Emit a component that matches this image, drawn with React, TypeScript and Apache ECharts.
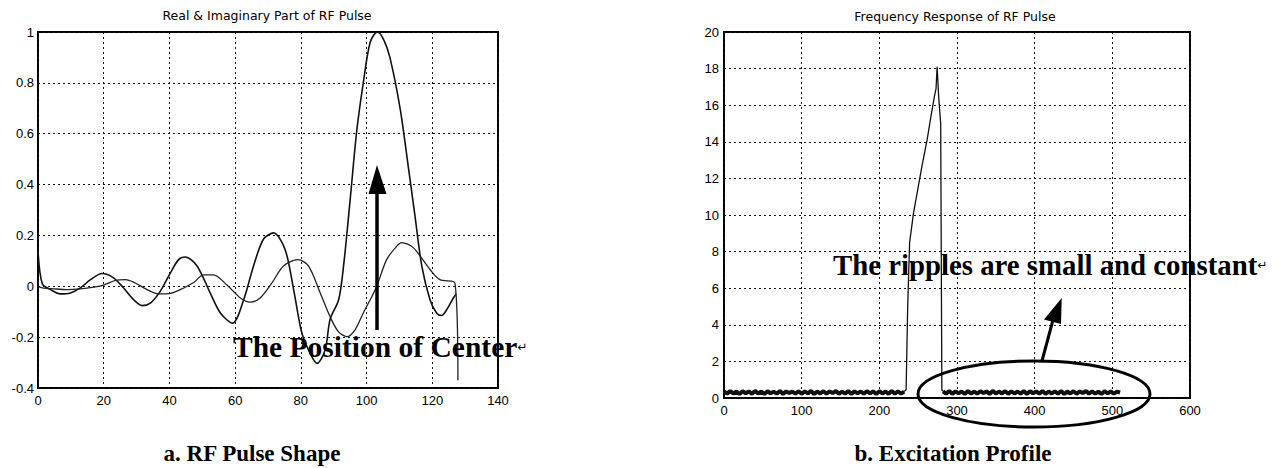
import React, { useEffect, useRef } from "react";
import * as echarts from "echarts";

// ---- Left chart: Real & Imaginary Part of RF Pulse ----
const realX = [0, 1.3, 3.8, 6.8, 9.9, 12.9, 16, 19.5, 23, 26, 29.1, 31.7, 34.2, 37.2, 40.3, 42.8, 44.8, 48.4, 52.4, 55.5, 59.2, 62.6, 65.6, 68.6, 71.7, 75.2, 77.8, 80.3, 82.8, 84.9, 87.4, 88.9, 91.5, 93, 95, 97, 99, 101.1, 103.3, 105.2, 107.1, 110.2, 112.7, 114.7, 116.8, 119.3, 121.3, 122.8, 124.5, 126.4, 127.3];
const realY = [0.14, 0.01, -0.013, -0.03, -0.026, -0.006, 0.026, 0.05, 0.033, -0.006, -0.053, -0.076, -0.066, -0.02, 0.053, 0.105, 0.115, 0.08, -0.026, -0.105, -0.145, -0.053, 0.08, 0.185, 0.21, 0.145, -0.013, -0.184, -0.263, -0.303, -0.25, -0.13, -0.053, 0.08, 0.34, 0.61, 0.8, 0.96, 1.0, 0.97, 0.9, 0.7, 0.47, 0.28, 0.08, -0.053, -0.105, -0.115, -0.09, -0.046, -0.03];

const imagX = [0, 1.3, 4.8, 8.9, 12.9, 17, 20, 23.6, 26.6, 29.6, 33.2, 36.7, 40.3, 43.3, 47.4, 50.4, 53.4, 57.5, 61.6, 64.6, 67.6, 71.2, 74.7, 79.1, 82.3, 85.9, 88.9, 91.4, 94, 96.5, 99, 101.1, 103.1, 106.1, 109.2, 110.7, 114.2, 119.3, 122.3, 126.9, 127.8];
const imagY = [0, -0.006, -0.01, -0.013, -0.01, -0.003, 0.005, 0.023, 0.026, 0.013, -0.013, -0.03, -0.028, -0.013, 0.015, 0.045, 0.045, 0.005, -0.046, -0.062, -0.046, 0.013, 0.08, 0.105, 0.08, -0.026, -0.12, -0.178, -0.198, -0.171, -0.105, -0.053, 0, 0.105, 0.158, 0.172, 0.152, 0.066, 0.026, 0.013, -0.37];

// ---- Right chart: Frequency Response of RF Pulse ----
const rippleStep = 4;
const rippleAStart = 0;
const rippleA = [
  0.36, 0.24, 0.38, 0.25, 0.35, 0.22, 0.37, 0.26, 0.36, 0.23,
  0.39, 0.25, 0.35, 0.22, 0.37, 0.26, 0.34, 0.24, 0.38, 0.22,
  0.36, 0.27, 0.35, 0.24, 0.37, 0.23, 0.36, 0.25, 0.39, 0.22,
  0.35, 0.25, 0.37, 0.24, 0.36, 0.27, 0.38, 0.23, 0.35, 0.24,
  0.38, 0.22, 0.36, 0.26, 0.35, 0.24, 0.37, 0.25, 0.36, 0.22,
  0.37, 0.25, 0.35, 0.23, 0.38, 0.24, 0.36, 0.24, 0.35,
];
const mainX = [232, 234.5, 236.5, 239, 244, 249.5, 255, 261.5, 266.5, 271, 273, 274.4, 276.5, 279, 280.5, 282];
const mainY = [0.35, 0.45, 5, 8.5, 10.1, 11.4, 12.7, 14.1, 15.4, 16.5, 16.9, 18.1, 16.4, 15, 0.45, 0.36];
const rippleBStart = 282;
const rippleB = [
  0.36, 0.24, 0.38, 0.23, 0.36, 0.26, 0.35, 0.22, 0.38, 0.25,
  0.35, 0.24, 0.37, 0.27, 0.36, 0.22, 0.39, 0.24, 0.35, 0.25,
  0.37, 0.23, 0.36, 0.25, 0.35, 0.24, 0.38, 0.22, 0.37, 0.26,
  0.36, 0.24, 0.38, 0.23, 0.35, 0.25, 0.36, 0.24, 0.38, 0.22,
  0.35, 0.25, 0.37, 0.23, 0.36, 0.27, 0.38, 0.24, 0.36, 0.24,
  0.35, 0.22, 0.37, 0.25, 0.36, 0.24, 0.35, 0.3,
];

const leftTitle = "Real & Imaginary Part of RF Pulse";
const rightTitle = "Frequency Response of RF Pulse";
const captionA = "a. RF Pulse Shape";
const captionB = "b. Excitation Profile";
const noteA = "The Position of Center";
const noteB = "The ripples are small and constant";

const tickFont = { color: "#000", fontFamily: "Liberation Sans, Arial, sans-serif", fontSize: 13 };
const gridLine = { show: true, lineStyle: { color: "#111", width: 1, type: [2, 3] as any } };

export default function App() {
  const ref = useRef<HTMLDivElement>(null);
  useEffect(() => {
    if (!ref.current) return;
    const chart = echarts.init(ref.current, undefined, { renderer: "svg" });
    const realData = realX.map((x, i) => [x, realY[i]]);
    const imagData = imagX.map((x, i) => [x, imagY[i]]);
    const rippleAData = rippleA.map((v, i) => [rippleAStart + i * rippleStep, v]);
    const mainData = mainX.map((x, i) => [x, mainY[i]]);
    const rippleBData = rippleB.map((v, i) => [rippleBStart + i * rippleStep, v]);
    const serif = "Liberation Serif, Times New Roman, serif";
    const option: any = {
      animation: false,
      backgroundColor: "#fff",
      grid: [
        { left: 38, top: 32, width: 460, height: 356, show: true, borderColor: "#000", borderWidth: 2 },
        { left: 724, top: 32, width: 466, height: 366, show: true, borderColor: "#000", borderWidth: 2 },
      ],
      xAxis: [
        {
          type: "value", gridIndex: 0, min: 0, max: 140, interval: 20,
          axisLine: { show: false }, axisTick: { show: false },
          axisLabel: { ...tickFont, margin: 6 }, splitLine: gridLine,
        },
        {
          type: "value", gridIndex: 1, min: 0, max: 600, interval: 100,
          axisLine: { show: false }, axisTick: { show: false },
          axisLabel: { ...tickFont, margin: 6 }, splitLine: gridLine,
        },
      ],
      yAxis: [
        {
          type: "value", gridIndex: 0, min: -0.4, max: 1, interval: 0.2,
          axisLine: { show: false }, axisTick: { show: false },
          axisLabel: { ...tickFont, margin: 4, formatter: (v: number) => String(Math.round(v * 10) / 10) },
          splitLine: gridLine,
        },
        {
          type: "value", gridIndex: 1, min: 0, max: 20, interval: 2,
          axisLine: { show: false }, axisTick: { show: false },
          axisLabel: { ...tickFont, margin: 5 }, splitLine: gridLine,
        },
      ],
      series: [
        {
          name: "Real", type: "line", xAxisIndex: 0, yAxisIndex: 0, data: realData,
          showSymbol: false, smooth: 0.3, lineStyle: { color: "#111", width: 1.6 },
        },
        {
          name: "Imaginary", type: "line", xAxisIndex: 0, yAxisIndex: 0, data: imagData,
          showSymbol: false, smooth: 0.3, lineStyle: { color: "#222", width: 1.3 },
        },
        {
          name: "Ripple low band", type: "line", xAxisIndex: 1, yAxisIndex: 1, data: rippleAData,
          showSymbol: false, lineStyle: { color: "#111", width: 4 },
        },
        {
          name: "Main lobe", type: "line", xAxisIndex: 1, yAxisIndex: 1, data: mainData,
          showSymbol: false, lineStyle: { color: "#111", width: 1.3 },
        },
        {
          name: "Ripple high band", type: "line", xAxisIndex: 1, yAxisIndex: 1, data: rippleBData,
          showSymbol: false, lineStyle: { color: "#111", width: 4 },
        },
      ],
      graphic: [
        { type: "text", x: 267, y: 15, style: { text: leftTitle, fill: "#000", font: "12.5px DejaVu Sans, sans-serif", textAlign: "center", textVerticalAlign: "middle" } },
        { type: "text", x: 955, y: 16, style: { text: rightTitle, fill: "#000", font: "12.5px DejaVu Sans, sans-serif", textAlign: "center", textVerticalAlign: "middle" } },
        { type: "text", x: 252, y: 453, style: { text: captionA, fill: "#000", font: `bold 23px ${serif}`, textAlign: "center", textVerticalAlign: "middle" } },
        { type: "text", x: 953, y: 453, style: { text: captionB, fill: "#000", font: `bold 23px ${serif}`, textAlign: "center", textVerticalAlign: "middle" } },
        // left annotation arrow
        { type: "line", z: 100, shape: { x1: 377, y1: 330, x2: 377, y2: 190 }, style: { stroke: "#000", lineWidth: 3.5 } },
        { type: "polygon", z: 100, shape: { points: [[377, 165], [368.5, 194], [386.5, 194]] }, style: { fill: "#000" } },
        {
          type: "text", z: 100, x: 233, y: 347,
          style: {
            text: `{a|${noteA}}{b|↵}`, fill: "#000", textAlign: "left", textVerticalAlign: "middle",
            rich: { a: { fontFamily: serif, fontWeight: "bold", fontSize: 29.5, fill: "#000" }, b: { fontFamily: "DejaVu Sans", fontSize: 12, fill: "#000" } },
          },
        },
        // right annotation
        {
          type: "text", z: 100, x: 833, y: 265,
          style: {
            text: `{a|${noteB}}{b|↵}`, fill: "#000", textAlign: "left", textVerticalAlign: "middle",
            rich: { a: { fontFamily: serif, fontWeight: "bold", fontSize: 28.8, fill: "#000" }, b: { fontFamily: "DejaVu Sans", fontSize: 12, fill: "#000" } },
          },
        },
        { type: "line", z: 100, shape: { x1: 1041.7, y1: 362, x2: 1053, y2: 320 }, style: { stroke: "#000", lineWidth: 3 } },
        { type: "polygon", z: 100, shape: { points: [[1061.7, 298], [1044, 319.5], [1061, 324]] }, style: { fill: "#000" } },
        { type: "ellipse", z: 100, shape: { cx: 1034, cy: 394, rx: 116, ry: 33 }, style: { fill: "none", stroke: "#000", lineWidth: 3 } },
      ],
    };
    chart.setOption(option);
    return () => chart.dispose();
  }, []);
  return <div ref={ref} style={{ position: "fixed", left: 0, top: 0, width: 1284, height: 468 }} />;
}
